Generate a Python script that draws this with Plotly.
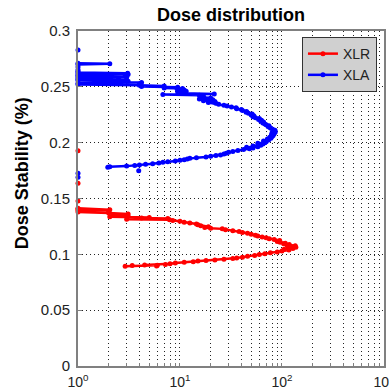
import plotly.graph_objects as go

# ---- data ----
xlr_y = [0.0893, 0.0896, 0.0899, 0.0902, 0.0905, 0.0910, 0.0916, 0.0922, 0.0928, 0.0934,
         0.0940, 0.0945, 0.0950, 0.0956, 0.0962, 0.0968, 0.0975, 0.0982, 0.0990, 0.0998,
         0.1006, 0.1014, 0.1022, 0.1030, 0.1038, 0.1045, 0.1052, 0.1058, 0.1064, 0.1070,
         0.1076, 0.1082, 0.1088, 0.1094, 0.1100, 0.1108, 0.1116, 0.1124, 0.1132, 0.1140,
         0.1148, 0.1156, 0.1164, 0.1172, 0.1180, 0.1188, 0.1196, 0.1204, 0.1212, 0.1220,
         0.1228, 0.1234, 0.1240, 0.1248, 0.1256, 0.1264, 0.1272, 0.1280, 0.1288, 0.1296,
         0.1304, 0.1310, 0.1314, 0.1320, 0.1325, 0.1330, 0.1336, 0.1342, 0.1348, 0.1355,
         0.1362, 0.1370, 0.1378, 0.1386, 0.1394, 0.1400, 0.1406, 0.1412,
         None, 0.1478, None, 0.1636, None, 0.1928]
xlr_x = [2.9, 5.9, 3.4, 6.0, 4.5, 7.2, 8.0, 9.0, 11.0, 13.5,
         15.0, 18.0, 22.0, 27.0, 33.0, 36.0, 41.0, 46.0, 54.0, 60.0,
         68.0, 77.0, 90.0, 100.0, 117.0, 105.0, 128.0, 115.0, 137.0, 125.0,
         135.0, 112.0, 118.0, 104.0, 108.0, 96.0, 90.0, 95.0, 84.0, 75.0,
         70.0, 64.0, 58.0, 55.0, 50.0, 46.0, 41.0, 38.0, 33.0, 28.0,
         26.0, 20.0, 17.5, 19.0, 16.0, 15.0, 14.5, 12.5, 11.0, 10.0,
         8.5, 7.9, 3.0, 7.6, 4.2, 5.0, 2.05, 3.1, 3.0, 2.2,
         3.1, 2.0, 1.0, 2.0, 1.0, 2.05, 1.0, 1.0,
         None, 1.0, None, 1.0, None, 1.0]

xla_y = [0.1690, None, 0.1726, None, 0.1749, None,
         0.1779, 0.1785, 0.1790, 0.1795, 0.1800, 0.1806, 0.1812, 0.1818, 0.1824, 0.1830,
         0.1836, 0.1842, 0.1848, 0.1854, 0.1860, 0.1866, 0.1872, 0.1878, 0.1884, 0.1890,
         0.1898, 0.1906, 0.1914, 0.1922, 0.1930, 0.1938, 0.1946, 0.1952, 0.1958, 0.1964,
         0.1970, 0.1976, 0.1982, 0.1988, 0.1994, 0.2000, 0.2008, 0.2016, 0.2024, 0.2032,
         0.2040, 0.2048, 0.2056, 0.2064, 0.2072, 0.2080, 0.2088, 0.2096, 0.2104, 0.2112,
         0.2120, 0.2128, 0.2136, 0.2144, 0.2152, 0.2160, 0.2168, 0.2176, 0.2184, 0.2192,
         0.2200, 0.2208, 0.2216, 0.2224, 0.2232, 0.2240, 0.2248, 0.2256, 0.2264, 0.2272,
         0.2280, 0.2288, 0.2296, 0.2304, 0.2312, 0.2320, 0.2328, 0.2336, 0.2344, 0.2352,
         0.2360, 0.2368, 0.2376, 0.2384, 0.2392, 0.2400, 0.2408, 0.2416, 0.2424, 0.2432,
         0.2436, 0.2442, 0.2448, 0.2454, 0.2460, 0.2466, 0.2472, 0.2478, 0.2484, 0.2490,
         0.2496, 0.2502, 0.2508, 0.2514, 0.2520, 0.2526, 0.2532, 0.2538, 0.2544, 0.2550,
         0.2556, 0.2562, 0.2568, 0.2574, 0.2580, 0.2586, 0.2592, 0.2598, 0.2604, 0.2610,
         0.2616, 0.2622, 0.2628, 0.2640, 0.2652, None, 0.2678, None,
         0.2700, 0.2706, 0.2712, None, 0.2830]
xla_x = [1.0, None, 1.0, None, 3.94, None,
         1.96, 2.05, 3.0, 3.6, 4.0, 4.6, 5.4, 6.2, 6.8, 7.6,
         9.0, 10.0, 11.0, 11.8, 12.5, 14.5, 18.0, 20.0, 22.5, 25.0,
         27.0, 28.5, 30.0, 33.0, 37.0, 42.0, 48.0, 52.0, 45.0, 58.0,
         52.0, 62.0, 60.0, 65.0, 58.0, 68.0, 70.0, 66.0, 74.0, 72.0,
         78.0, 76.0, 80.0, 82.0, 79.0, 84.0, 80.0, 86.0, 83.0, 85.5,
         81.0, 78.0, 76.0, 73.0, 74.5, 70.0, 68.0, 65.0, 66.0, 62.0,
         63.0, 59.0, 60.0, 55.0, 52.0, 53.0, 50.0, 51.0, 47.0, 44.5,
         45.0, 41.0, 40.0, 36.0, 35.5, 32.0, 29.0, 27.0, 24.0, 22.5,
         19.0, 22.0, 17.0, 21.0, 15.5, 20.0, 16.0, 17.0, 15.5, 6.8,
         21.7, 11.0, 10.5, 9.5, 11.5, 10.0, 11.0, 9.4, 10.6, 7.0,
         9.5, 4.2, 7.0, 4.0, 1.0, 4.0, 1.0, 4.2, 2.0, 3.1,
         1.0, 3.0, 1.0, 2.5, 1.0, 3.0, 1.0, 2.9, 1.0, 3.1,
         1.0, 3.07, 1.0, 1.0, 1.0, None, 1.0, None,
         1.0, 2.05, 1.0, None, 1.0]

x_tickvals = [1, 2, 3, 4, 5, 6, 7, 8, 9,
              10, 20, 30, 40, 50, 60, 70, 80, 90,
              100, 200, 300, 400, 500, 600, 700, 800, 900, 1000]
x_ticktext = ["10<sup>0</sup>", "", "", "", "", "", "", "", "",
              "10<sup>1</sup>", "", "", "", "", "", "", "", "",
              "10<sup>2</sup>", "", "", "", "", "", "", "", "",
              "10<sup>3</sup>"]
y_tickvals = [0, 0.05, 0.1, 0.15, 0.2, 0.25, 0.3]
y_ticktext = ["0", "0.05", "0.1", "0.15", "0.2", "0.25", "0.3"]

FONT = "Liberation Sans, Arial, sans-serif"
GRID_DASH = "1px,3px"

fig = go.Figure()
fig.add_trace(go.Scatter(x=xlr_x, y=xlr_y, name="XLR", mode="lines+markers",
                         line=dict(color="#ff0000", width=2.5),
                         marker=dict(color="#ff0000", size=5),
                         cliponaxis=False))
fig.add_trace(go.Scatter(x=xla_x, y=xla_y, name="XLA", mode="lines+markers",
                         line=dict(color="#0000ff", width=2.5),
                         marker=dict(color="#0000ff", size=5),
                         cliponaxis=False))

fig.update_layout(
    width=389, height=390,
    margin=dict(l=78, r=3, t=31, b=24),
    paper_bgcolor="white", plot_bgcolor="white",
    font=dict(family=FONT, color="#222222"),
    title=dict(text="<b>Dose distribution</b>", x=0.5, xref="paper",
               y=1 - 15 / 390, yanchor="middle",
               font=dict(family=FONT, size=18, color="#000000")),
    showlegend=True,
    legend=dict(x=0.977, y=0.982, xanchor="right", yanchor="top",
                bgcolor="#d0d0d0", bordercolor="#333333", borderwidth=1,
                font=dict(family=FONT, size=14, color="#222222"),
                tracegroupgap=0, itemwidth=30),
    annotations=[dict(text="<b>Dose Stability (%)</b>", textangle=-90,
                      xref="paper", yref="paper", x=-0.182, y=0.576,
                      xanchor="center", yanchor="middle", showarrow=False,
                      font=dict(family=FONT, size=18, color="#000000"))],
)
fig.update_xaxes(type="log", range=[0, 3.001],
                 tickvals=x_tickvals, ticktext=x_ticktext, tickangle=0,
                 tickfont=dict(family=FONT, size=14, color="#222222"),
                 ticklabelstandoff=2, ticklabeloverflow="allow", automargin=False,
                 showgrid=True, gridcolor="#222222", griddash=GRID_DASH, gridwidth=1,
                 ticks="inside", ticklen=3, tickcolor="#808080",
                 showline=True, linecolor="#808080", linewidth=2, mirror=True,
                 zeroline=False)
fig.update_yaxes(range=[0, 0.3],
                 tickvals=y_tickvals, ticktext=y_ticktext,
                 tickfont=dict(family=FONT, size=15, color="#222222"),
                 ticklabelstandoff=3,
                 showgrid=True, gridcolor="#222222", griddash=GRID_DASH, gridwidth=1,
                 ticks="inside", ticklen=4, tickcolor="#808080",
                 showline=True, linecolor="#808080", linewidth=2, mirror=True,
                 zeroline=False)

fig.write_html("out.html", config={"displayModeBar": False},
               post_script="document.body.style.margin='0';document.body.style.padding='0';"
                           "document.body.style.overflow='hidden';")
